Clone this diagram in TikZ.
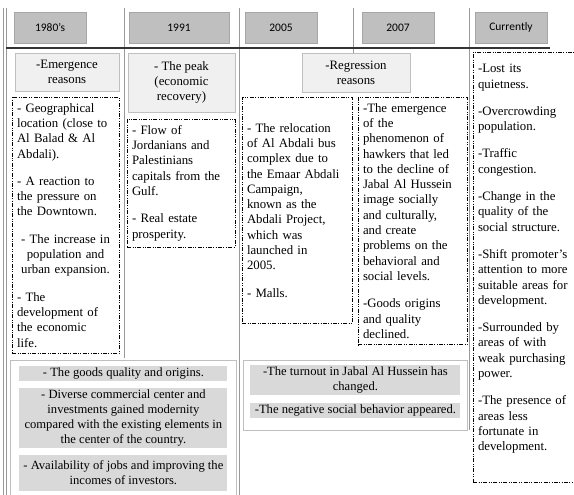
\documentclass[tikz,border=0pt]{standalone}
\usepackage{fontspec}
\setmainfont{Liberation Serif}
\newfontfamily\hdrfont{Carlito}
\usetikzlibrary{positioning}
\newcommand{\itemgap}{\par\vspace{12pt}}

\begin{document}
\begin{tikzpicture}[x=1pt, y=-1pt,
    hdr/.style={draw=gray!70, fill=gray!50, minimum width=72pt, minimum height=31pt, inner sep=0pt, font=\hdrfont\fontsize{11.5}{13}\selectfont},
    sub/.style={draw=gray!50, fill=gray!12, align=center, inner sep=0pt, font=\fontsize{12.8}{15}\selectfont},
    note/.style={draw, line width=0.6pt, dash pattern=on 4pt off 1.5pt on 0.8pt off 1.5pt on 0.8pt off 1.5pt, align=left, inner xsep=5pt, inner ysep=6pt, anchor=north, font=\fontsize{12.8}{15.3}\selectfont},
    panel/.style={draw=gray!50, line width=0.8pt, anchor=north west, inner sep=0pt},
    bar/.style={fill=gray!30, align=center, minimum width=208pt, inner xsep=2pt, inner ysep=1.5pt, font=\fontsize{12.6}{15}\selectfont},
    sep/.style={draw=gray!80, line width=0.9pt}]
\useasboundingbox (0,0) rectangle (574,495);

% column separators and time axis
\draw[sep, double, double distance=2pt] (5,8) -- (5,495);
\draw[sep] (124,8) -- (124,358);
\draw[sep] (239,8) -- (239,495);
\draw[sep] (353,8) -- (353,53);
\draw[sep] (469,8) -- (469,430);
\draw[black!80, line width=1.3pt] (6,48) -- (550,48);

% years
\node[hdr] (h1980) at (50,27.5) {1980’s};
\node[hdr, minimum width=100pt] (h1991) at (179,27.5) {1991};
\node[hdr] (h2005) at (281,27.5) {2005};
\node[hdr] (h2007) at (398,27.5) {2007};
\node[hdr] (hnow) at (511,27.5) {Currently};

% reasons
\node[sub, minimum width=104pt, minimum height=38pt] (emerge) at (67,72) {-Emergence\\reasons};
\node[sub, minimum width=107pt, minimum height=59pt] (peak) at (181.5,82.5) {- The peak\\(economic\\recovery)};
\node[sub, minimum width=108pt, minimum height=39pt] (regress) at (356,72.5) {-Regression\\reasons};

% notes per period
\node[note, text width=97pt] (n1980) at (65.5,97) {- Geographical\\ location (close to\\ Al Balad \& Al\\ Abdali).\itemgap
- A reaction to\\ the pressure on\\ the Downtown.\itemgap
{\centering - The increase in\\ population and\\ urban expansion.\par}\vspace{12pt}
- The\\ development of\\ the economic\\ life.};
\node[note, text width=98pt] (n1991) at (181,119) {- Flow of\\ Jordanians and\\ Palestinians\\ capitals from the\\ Gulf.\itemgap
- Real estate\\ prosperity.};
\node[note, text width=100pt, minimum height=226pt] (n2005) at (297,97) {- The relocation\\ of Al Abdali bus\\ complex due to\\ the Emaar Abdali\\ Campaign,\\ known as the\\ Abdali Project,\\ which was\\ launched in\\ 2005.\itemgap
- Malls.};
\node[note, text width=99pt] (n2007) at (412.5,97) {-The emergence\\ of the\\ phenomenon of\\ hawkers that led\\ to the decline of\\ Jabal Al Hussein\\ image socially\\ and culturally,\\ and create\\ problems on the\\ behavioral and\\ social levels.\itemgap
-Goods origins\\ and quality\\ declined.};
\node[note, text width=102pt, inner ysep=12pt, text depth=398pt] (nnow) at (529,52) {-Lost its\\ quietness.\itemgap
-Overcrowding\\ population.\itemgap
-Traffic\\ congestion.\itemgap
-Change in the\\ quality of the\\ social structure.\itemgap
-Shift promoter’s\\ attention to more\\ suitable areas for\\ development.\itemgap
-Surrounded by\\ areas of with\\ weak purchasing\\ power.\itemgap
-The presence of\\ areas less\\ fortunate in\\ development.};

% results
\node[panel, minimum width=226pt, minimum height=140pt] (panelL) at (10,360) {};
\node[bar, anchor=north] (goods) at ([yshift=-6pt]panelL.north) {- The goods quality and origins.};
\node[bar, below=7pt of goods] (diverse) {- Diverse commercial center and\\ investments gained modernity\\ compared with the existing elements in\\ the center of the country.};
\node[bar, below=7pt of diverse, minimum height=36pt] (jobs) {- Availability of jobs and improving the\\ incomes of investors.};

\node[panel, minimum width=224pt, minimum height=70pt] (panelR) at (243,360) {};
\node[bar, anchor=north, minimum width=210pt] (turnout) at ([yshift=-5pt]panelR.north) {-The turnout in Jabal Al Hussein has\\ changed.};
\node[bar, below=8pt of turnout, minimum width=210pt] (negative) {-The negative social behavior appeared.};
\end{tikzpicture}
\end{document}
